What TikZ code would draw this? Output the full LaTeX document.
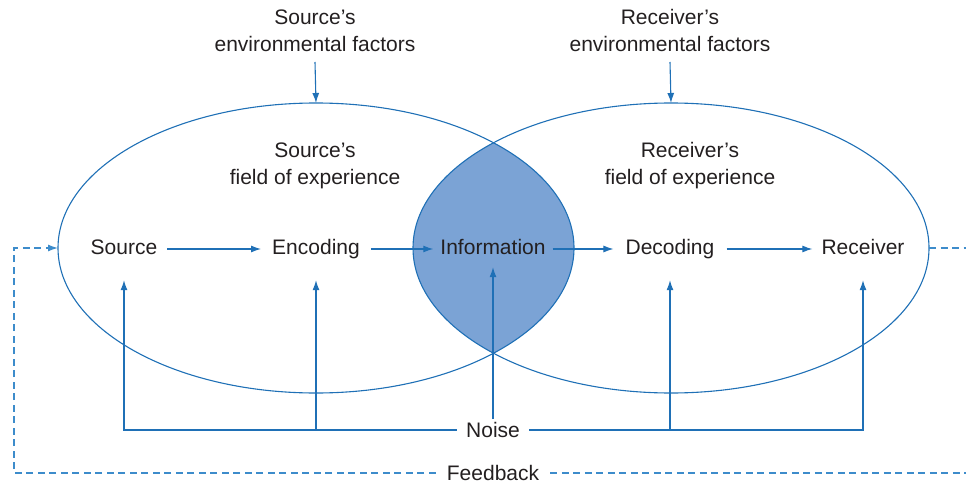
\documentclass[tikz,border=0pt]{standalone}
\usepackage{fontspec}
\setmainfont{Liberation Sans}
\usetikzlibrary{arrows.meta,shapes.geometric}
\definecolor{lineblue}{HTML}{1F70B6}
\definecolor{fbblue}{HTML}{3D8CCB}
\definecolor{lensfill}{HTML}{7BA3D5}
\definecolor{txt}{HTML}{231F20}
\begin{document}
\begin{tikzpicture}[x=1pt,y=-1pt,
  every node/.style={text=txt,font=\fontsize{21}{27}\selectfont},
  conn/.style={draw=lineblue,line width=1.1pt},
  arr/.style={conn,-{Latex[length=10pt,width=7pt]}},
  fb/.style={draw=fbblue,line width=1.3pt,dash pattern=on 7pt off 4.5pt},
  fbarr/.style={fb,-{Latex[length=10pt,width=7pt]}},
  field/.style={ellipse,draw=lineblue,line width=1.1pt,minimum width=516pt,minimum height=290pt,inner sep=0pt,outer sep=0pt},
  rownode/.style={inner xsep=10pt,inner ysep=0pt,text height=15.5pt,text depth=4.5pt,minimum height=62pt},
  twoline/.style={align=center,inner ysep=10pt,inner xsep=0pt}
]
\useasboundingbox (0,0) rectangle (966,484);
% lens fill
\begin{scope}
  \clip (316,248) ellipse [x radius=258pt, y radius=145pt];
  \fill[lensfill] (671,248) ellipse [x radius=258pt, y radius=145pt];
\end{scope}
\node[field] (leftEll) at (316,248) {};
\node[field] (rightEll) at (671,248) {};

% environmental factors
\node[twoline,anchor=south] (envS) at (315,62) {Source’s\\environmental factors};
\node[twoline,anchor=south] (envR) at (670,62) {Receiver’s\\environmental factors};
\draw[arr] (envS.south) -- (leftEll.north);
\draw[arr] (envR.south) -- (rightEll.north);

% fields of experience
\node[align=center] (fieldS) at (315,166) {Source’s\\field of experience};
\node[align=center] (fieldR) at (690,166) {Receiver’s\\field of experience};

% main row
\node[rownode] (source) at (124,249) {Source};
\node[rownode,inner xsep=11pt] (encoding) at (316,249) {Encoding};
\node[rownode,inner xsep=7pt,minimum height=36pt] (info) at (493,249) {Information};
\node[rownode,inner xsep=12pt] (decoding) at (670,249) {Decoding};
\node[rownode,inner xsep=9pt] (receiver) at (863,249) {Receiver};
\draw[arr] (source.east) -- (encoding.west);
\draw[arr] (encoding.east) -- (info.west);
\draw[arr] (info.east) -- (decoding.west);
\draw[arr] (decoding.east) -- (receiver.west);

% noise
\node[inner xsep=9pt,inner ysep=3pt] (noise) at (493,430) {Noise};
\draw[arr] (noise.west) -| (source.south);
\draw[arr] (noise.west) -| (encoding.south);
\draw[arr] (noise.north) -- (info.south);
\draw[arr] (noise.east) -| (decoding.south);
\draw[arr] (noise.east) -| (receiver.south);

% feedback
\node[inner xsep=11pt,inner ysep=2pt] (feedback) at (493,473) {Feedback};
\coordinate (fbL) at (14,248);
\coordinate (fbRT) at (966,248);
\draw[fbarr] (feedback.west) -| (fbL) -- (leftEll.west);
\draw[fb] (feedback.east) -- (feedback.east -| fbRT);
\draw[fb] (rightEll.east) -- (fbRT);
\end{tikzpicture}
\end{document}
